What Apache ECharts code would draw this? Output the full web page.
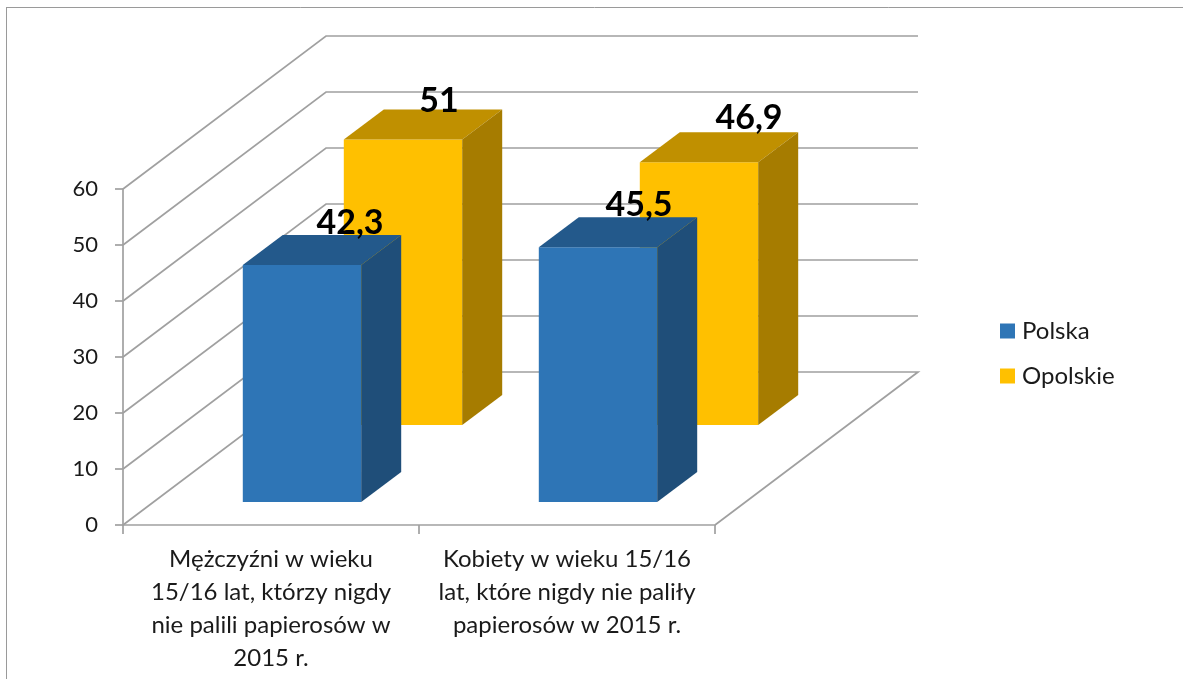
<!DOCTYPE html>
<html><head><meta charset="utf-8">
<style>html,body{margin:0;padding:0;background:#fff}#c{width:1183px;height:679px}</style>
<script src="https://cdn.jsdelivr.net/npm/echarts@6/dist/echarts.min.js"></script>
</head><body><div id="c"></div>
<script>
const categories = ['Mężczyźni w wieku\n15/16 lat, którzy nigdy\nnie palili papierosów w\n2015 r.', 'Kobiety w wieku 15/16\nlat, które nigdy nie paliły\npapierosów w 2015 r.'];
const polska = [42.3, 45.5];
const opolskie = [51, 46.9];
const yTicks = [0, 10, 20, 30, 40, 50, 60];

const FONT = 'Lato, Carlito, sans-serif';
const LINE = '#a0a0a0';
const LW = 1.7;
const DEPTH = {x: 203, y: 153};
const BAR_DEPTH = {x: 40, y: 30};
const BAR_WIDTH_RATIO = 0.4;
const fmt = v => String(v).replace('.', ',');

function wallItem(params, api) {
  const v = api.value(1);
  const p0 = api.coord([0, v]);
  const p1 = api.coord([categories.length - 1, v]);
  const band = api.size([1, 0])[0];
  const left = p0[0] - band / 2, right = p1[0] + band / 2, y = p0[1];
  const pts = [[left, y], [left + DEPTH.x, y - DEPTH.y], [right + DEPTH.x, y - DEPTH.y]];
  if (v === 0) pts.push([right, y]);
  return {type: 'polyline', shape: {points: pts}, style: {stroke: LINE, lineWidth: LW, fill: null}};
}

function barRenderer(colors, shift, labelOffsets) {
  return function (params, api) {
    const c = api.coord([api.value(0), api.value(1)]);
    const base = api.coord([api.value(0), 0]);
    const w = api.size([1, 0])[0] * BAR_WIDTH_RATIO;
    const x0 = c[0] - w / 2 + shift.x, x1 = x0 + w;
    const yt = c[1] - shift.y, yb = base[1] - shift.y;
    const dx = BAR_DEPTH.x, dy = BAR_DEPTH.y;
    const off = labelOffsets[params.dataIndex];
    return {type: 'group', children: [
      {type: 'rect', shape: {x: x0, y: yt, width: w, height: yb - yt}, style: {fill: colors[0]}},
      {type: 'polygon', shape: {points: [[x0, yt], [x0 + dx, yt - dy], [x1 + dx, yt - dy], [x1, yt]]}, style: {fill: colors[1]}},
      {type: 'polygon', shape: {points: [[x1, yt], [x1 + dx, yt - dy], [x1 + dx, yb - dy], [x1, yb]]}, style: {fill: colors[2]}},
      {type: 'text', z2: 10, style: {x: x0 + w / 2 + off[0], y: yt + off[1], text: fmt(api.value(1)), fill: '#000',
        font: 'bold 34px ' + FONT, align: 'center', verticalAlign: 'middle'}}
    ]};
  };
}

const chart = echarts.init(document.getElementById('c'), null, {renderer: 'canvas'});
chart.setOption({
  animation: false,
  backgroundColor: '#fff',
  textStyle: {fontFamily: FONT},
  grid: {left: 123, right: 468, top: 189, bottom: 154},
  legend: {
    data: ['Polska', 'Opolskie'], orient: 'vertical', left: 995, top: 314,
    itemWidth: 15, itemHeight: 15, itemGap: 21, icon: 'rect',
    textStyle: {fontFamily: FONT, fontSize: 24, color: '#1a1a1a', padding: [0, 0, 0, 2]}
  },
  graphic: [
    {type: 'line', shape: {x1: 6, y1: 7.5, x2: 1183, y2: 7.5}, style: {stroke: '#9a9a9a', lineWidth: 1}, silent: true},
    {type: 'line', shape: {x1: 6.5, y1: 7, x2: 6.5, y2: 679}, style: {stroke: '#9a9a9a', lineWidth: 1}, silent: true}
  ],
  xAxis: {
    type: 'category', data: categories,
    axisLine: {lineStyle: {color: LINE, width: LW}},
    axisTick: {show: true, length: 9, lineStyle: {color: LINE, width: LW}},
    axisLabel: {fontFamily: FONT, fontSize: 24, color: '#1a1a1a', lineHeight: 33, margin: 18, interval: 0}
  },
  yAxis: {
    type: 'value', min: 0, max: 60, interval: 10,
    axisLine: {show: true, lineStyle: {color: LINE, width: LW}},
    axisTick: {show: true, length: 8, lineStyle: {color: LINE, width: LW}},
    axisLabel: {fontFamily: FONT, fontSize: 22, color: '#1a1a1a', margin: 25},
    splitLine: {show: false}
  },
  series: [
    {name: 'walls', type: 'custom', renderItem: wallItem, clip: false, silent: true, z: 1,
     data: yTicks.map(t => [0, t]), encode: {x: 0, y: 1}},
    {name: 'Opolskie', type: 'custom', clip: false, z: 2, itemStyle: {color: '#FFC000'},
     renderItem: barRenderer(['#FFC000', '#C09000', '#A67C00'], {x: 132, y: 100}, [[36, -38], [50, -44]]),
     data: opolskie.map((v, i) => [i, v]), encode: {x: 0, y: 1}},
    {name: 'Polska', type: 'custom', clip: false, z: 3, itemStyle: {color: '#2E75B6'},
     renderItem: barRenderer(['#2E75B6', '#23598B', '#1F4E79'], {x: 31, y: 23}, [[48, -42], [41, -42]]),
     data: polska.map((v, i) => [i, v]), encode: {x: 0, y: 1}}
  ]
});
</script></body></html>
